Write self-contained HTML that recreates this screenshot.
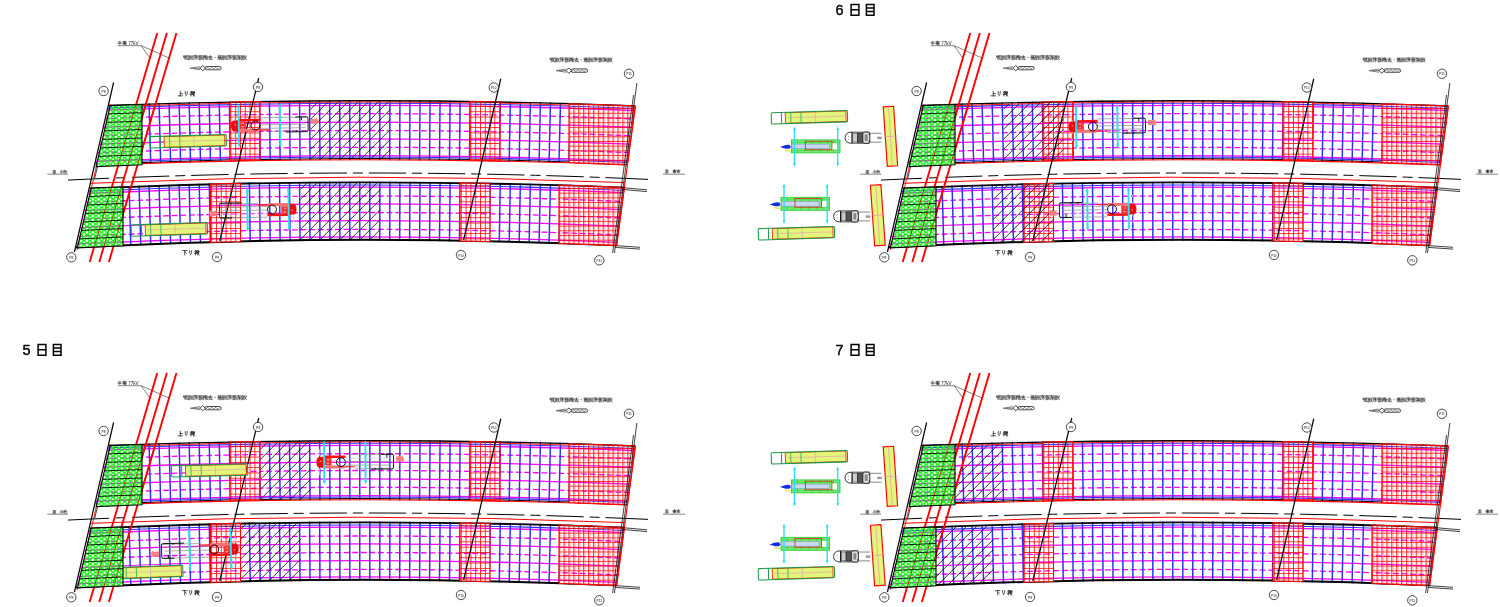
<!DOCTYPE html><html><head><meta charset="utf-8"><style>html,body{margin:0;padding:0;background:#fff;overflow:hidden;}svg{display:block;will-change:transform;}</style></head><body><svg width="1500" height="607" viewBox="0 0 1500 607"><defs>
<pattern id="rgp" width="4.8" height="5.3" patternUnits="userSpaceOnUse">
 <rect x="0" y="0" width="0.8" height="5.3" fill="#ff0000"/>
 <rect x="0" y="0" width="4.8" height="0.75" fill="#ff0000"/>
</pattern>
<pattern id="rgp2" width="4.9" height="4.7" patternUnits="userSpaceOnUse">
 <rect x="0" y="0" width="0.75" height="4.7" fill="#ff0000"/>
 <rect x="1.75" y="0" width="0.4" height="4.7" fill="#ff1010"/>
 <rect x="0" y="0" width="4.9" height="0.7" fill="#ff0000"/>
</pattern>
<pattern id="hp" width="10" height="10" patternUnits="userSpaceOnUse" x="-0.2">
 <path d="M-1 11 L11 -1 M-1 1 L1 -1 M9 11 L11 9" stroke="#000" stroke-width="0.8"/>
</pattern>
<pattern id="gmp" width="5.8" height="4.15" patternUnits="userSpaceOnUse">
 <path fill-rule="evenodd" fill="#00f800" d="M0 0H5.8V4.15H0ZM-1.4 0 a1.4 1.4 0 1 0 2.8 0 a1.4 1.4 0 1 0 -2.8 0ZM4.4 0 a1.4 1.4 0 1 0 2.8 0 a1.4 1.4 0 1 0 -2.8 0ZM-1.4 4.15 a1.4 1.4 0 1 0 2.8 0 a1.4 1.4 0 1 0 -2.8 0ZM4.4 4.15 a1.4 1.4 0 1 0 2.8 0 a1.4 1.4 0 1 0 -2.8 0ZM1.75 2.075 a1.15 1.15 0 1 0 2.3 0 a1.15 1.15 0 1 0 -2.3 0Z"/>
</pattern>
<g id="base"><clipPath id="cb0"><path d="M108.74 104.84 Q372 95.25 635.25 105.32 L627.34 165.26 Q361.02 154.35 94.7 165.64 Z"/></clipPath><clipPath id="cb1"><path d="M89.63 187.55 Q357.06 175.62 624.5 186.82 L616.65 246.26 Q346.15 234.29 75.65 248.1 Z"/></clipPath><g clip-path="url(#cb0)"><path d="M60 111.98 Q360 98.86 660 111.51" stroke="#ff00ff" stroke-width="1.3" fill="none"/><path d="M60 120.47 Q360 107.17 660 119.99" stroke="#ff00ff" stroke-width="1.3" fill="none" stroke-dasharray="5.8 2.8"/><path d="M60 128.97 Q360 115.48 660 128.48" stroke="#ff00ff" stroke-width="1.3" fill="none"/><path d="M60 137.47 Q360 123.79 660 136.97" stroke="#ff00ff" stroke-width="1.3" fill="none" stroke-dasharray="5.8 2.8"/><path d="M60 145.96 Q360 132.09 660 145.46" stroke="#ff00ff" stroke-width="1.3" fill="none"/><path d="M60 154.46 Q360 140.4 660 153.95" stroke="#ff00ff" stroke-width="1.3" fill="none" stroke-dasharray="5.8 2.8"/><path d="M60 162.85 Q360 148.61 660 162.34" stroke="#ff00ff" stroke-width="1.3" fill="none"/><path d="M149.03 102.06 L150.75 164.94" stroke="#2c2cff" stroke-width="1.45"/><path d="M159.05 101.76 L160.7 164.61" stroke="#2c2cff" stroke-width="1.45"/><path d="M169.08 101.48 L170.65 164.29" stroke="#2c2cff" stroke-width="1.45"/><path d="M179.11 101.21 L180.6 164" stroke="#2c2cff" stroke-width="1.45"/><path d="M189.14 100.95 L190.55 163.71" stroke="#2c2cff" stroke-width="1.45"/><path d="M199.18 100.71 L200.5 163.45" stroke="#2c2cff" stroke-width="1.45"/><path d="M209.21 100.48 L210.45 163.19" stroke="#2c2cff" stroke-width="1.45"/><path d="M219.24 100.27 L220.41 162.96" stroke="#2c2cff" stroke-width="1.45"/><path d="M229.28 100.07 L230.36 162.74" stroke="#2c2cff" stroke-width="1.45"/><path d="M239.31 99.88 L240.32 162.53" stroke="#2c2cff" stroke-width="1.45"/><path d="M249.35 99.71 L250.27 162.35" stroke="#2c2cff" stroke-width="1.45"/><path d="M259.39 99.55 L260.23 162.17" stroke="#2c2cff" stroke-width="1.45"/><path d="M269.42 99.41 L270.19 162.02" stroke="#2c2cff" stroke-width="1.45"/><path d="M279.46 99.28 L280.14 161.87" stroke="#2c2cff" stroke-width="1.45"/><path d="M289.5 99.17 L290.1 161.75" stroke="#2c2cff" stroke-width="1.45"/><path d="M299.54 99.07 L300.06 161.64" stroke="#2c2cff" stroke-width="1.45"/><path d="M309.58 98.98 L310.02 161.54" stroke="#2c2cff" stroke-width="1.45"/><path d="M319.62 98.91 L319.98 161.46" stroke="#2c2cff" stroke-width="1.45"/><path d="M329.66 98.85 L329.94 161.4" stroke="#2c2cff" stroke-width="1.45"/><path d="M339.7 98.81 L339.9 161.35" stroke="#2c2cff" stroke-width="1.45"/><path d="M349.74 98.78 L349.86 161.32" stroke="#2c2cff" stroke-width="1.45"/><path d="M359.78 98.76 L359.82 161.3" stroke="#2c2cff" stroke-width="1.45"/><path d="M369.82 98.76 L369.78 161.3" stroke="#2c2cff" stroke-width="1.45"/><path d="M379.86 98.77 L379.74 161.32" stroke="#2c2cff" stroke-width="1.45"/><path d="M389.9 98.8 L389.7 161.35" stroke="#2c2cff" stroke-width="1.45"/><path d="M399.94 98.84 L399.66 161.39" stroke="#2c2cff" stroke-width="1.45"/><path d="M409.98 98.9 L409.62 161.45" stroke="#2c2cff" stroke-width="1.45"/><path d="M420.02 98.97 L419.58 161.53" stroke="#2c2cff" stroke-width="1.45"/><path d="M430.06 99.05 L429.54 161.62" stroke="#2c2cff" stroke-width="1.45"/><path d="M440.09 99.15 L439.5 161.73" stroke="#2c2cff" stroke-width="1.45"/><path d="M450.13 99.26 L449.46 161.86" stroke="#2c2cff" stroke-width="1.45"/><path d="M460.17 99.39 L459.42 161.99" stroke="#2c2cff" stroke-width="1.45"/><path d="M470.21 99.53 L469.38 162.15" stroke="#2c2cff" stroke-width="1.45"/><path d="M480.24 99.69 L479.33 162.32" stroke="#2c2cff" stroke-width="1.45"/><path d="M490.28 99.86 L489.29 162.51" stroke="#2c2cff" stroke-width="1.45"/><path d="M500.32 100.04 L499.25 162.71" stroke="#2c2cff" stroke-width="1.45"/><path d="M510.35 100.24 L509.2 162.93" stroke="#2c2cff" stroke-width="1.45"/><path d="M520.39 100.45 L519.16 163.16" stroke="#2c2cff" stroke-width="1.45"/><path d="M530.42 100.68 L529.11 163.41" stroke="#2c2cff" stroke-width="1.45"/><path d="M540.45 100.92 L539.06 163.67" stroke="#2c2cff" stroke-width="1.45"/><path d="M550.48 101.17 L549.01 163.95" stroke="#2c2cff" stroke-width="1.45"/><path d="M560.51 101.44 L558.96 164.25" stroke="#2c2cff" stroke-width="1.45"/><path d="M570.54 101.72 L568.91 164.56" stroke="#2c2cff" stroke-width="1.45"/><path d="M580.57 102.02 L578.86 164.89" stroke="#2c2cff" stroke-width="1.45"/><path d="M590.6 102.33 L588.8 165.23" stroke="#2c2cff" stroke-width="1.45"/><path d="M600.62 102.66 L598.75 165.59" stroke="#2c2cff" stroke-width="1.45"/><path d="M610.65 103 L608.69 165.96" stroke="#2c2cff" stroke-width="1.45"/><path d="M620.67 103.35 L618.63 166.35" stroke="#2c2cff" stroke-width="1.45"/><path d="M630.69 103.72 L628.57 166.76" stroke="#2c2cff" stroke-width="1.45"/><path d="M640.71 104.1 L638.51 167.18" stroke="#2c2cff" stroke-width="1.45"/><path d="M60 109.96 Q360 96.88 660 109.48" stroke="#3333ff" stroke-width="1.1" fill="none"/><path d="M60 164.27 Q360 149.99 660 163.75" stroke="#3333ff" stroke-width="1.1" fill="none"/></g><g clip-path="url(#cb1)"><path d="M60 194.71 Q360 179.76 660 194.17" stroke="#ff00ff" stroke-width="1.3" fill="none"/><path d="M60 203.71 Q360 188.57 660 203.17" stroke="#ff00ff" stroke-width="1.3" fill="none" stroke-dasharray="5.8 2.8"/><path d="M60 211.7 Q360 196.38 660 211.15" stroke="#ff00ff" stroke-width="1.3" fill="none"/><path d="M60 220.4 Q360 204.88 660 219.84" stroke="#ff00ff" stroke-width="1.3" fill="none" stroke-dasharray="5.8 2.8"/><path d="M60 228.69 Q360 212.99 660 228.13" stroke="#ff00ff" stroke-width="1.3" fill="none"/><path d="M60 237.49 Q360 221.6 660 236.92" stroke="#ff00ff" stroke-width="1.3" fill="none" stroke-dasharray="5.8 2.8"/><path d="M60 244.98 Q360 228.92 660 244.4" stroke="#ff00ff" stroke-width="1.3" fill="none"/><path d="M129 184.5 L130.87 246.99" stroke="#2c2cff" stroke-width="1.45"/><path d="M139.02 184.12 L140.81 246.58" stroke="#2c2cff" stroke-width="1.45"/><path d="M149.04 183.77 L150.76 246.2" stroke="#2c2cff" stroke-width="1.45"/><path d="M159.07 183.42 L160.7 245.82" stroke="#2c2cff" stroke-width="1.45"/><path d="M169.1 183.1 L170.65 245.47" stroke="#2c2cff" stroke-width="1.45"/><path d="M179.13 182.79 L180.6 245.14" stroke="#2c2cff" stroke-width="1.45"/><path d="M189.16 182.5 L190.55 244.82" stroke="#2c2cff" stroke-width="1.45"/><path d="M199.19 182.22 L200.5 244.52" stroke="#2c2cff" stroke-width="1.45"/><path d="M209.22 181.96 L210.45 244.23" stroke="#2c2cff" stroke-width="1.45"/><path d="M219.25 181.72 L220.41 243.97" stroke="#2c2cff" stroke-width="1.45"/><path d="M229.29 181.49 L230.36 243.72" stroke="#2c2cff" stroke-width="1.45"/><path d="M239.32 181.28 L240.31 243.49" stroke="#2c2cff" stroke-width="1.45"/><path d="M249.36 181.08 L250.27 243.28" stroke="#2c2cff" stroke-width="1.45"/><path d="M259.39 180.9 L260.23 243.08" stroke="#2c2cff" stroke-width="1.45"/><path d="M269.43 180.74 L270.18 242.91" stroke="#2c2cff" stroke-width="1.45"/><path d="M279.47 180.59 L280.14 242.75" stroke="#2c2cff" stroke-width="1.45"/><path d="M289.5 180.46 L290.1 242.6" stroke="#2c2cff" stroke-width="1.45"/><path d="M299.54 180.35 L300.06 242.48" stroke="#2c2cff" stroke-width="1.45"/><path d="M309.58 180.25 L310.02 242.37" stroke="#2c2cff" stroke-width="1.45"/><path d="M319.62 180.17 L319.98 242.28" stroke="#2c2cff" stroke-width="1.45"/><path d="M329.66 180.1 L329.94 242.21" stroke="#2c2cff" stroke-width="1.45"/><path d="M339.7 180.05 L339.9 242.16" stroke="#2c2cff" stroke-width="1.45"/><path d="M349.74 180.02 L349.86 242.12" stroke="#2c2cff" stroke-width="1.45"/><path d="M359.78 180 L359.82 242.1" stroke="#2c2cff" stroke-width="1.45"/><path d="M369.82 180 L369.78 242.1" stroke="#2c2cff" stroke-width="1.45"/><path d="M379.86 180.02 L379.74 242.12" stroke="#2c2cff" stroke-width="1.45"/><path d="M389.9 180.05 L389.7 242.15" stroke="#2c2cff" stroke-width="1.45"/><path d="M399.94 180.1 L399.67 242.2" stroke="#2c2cff" stroke-width="1.45"/><path d="M409.98 180.16 L409.63 242.27" stroke="#2c2cff" stroke-width="1.45"/><path d="M420.01 180.24 L419.59 242.36" stroke="#2c2cff" stroke-width="1.45"/><path d="M430.05 180.33 L429.55 242.46" stroke="#2c2cff" stroke-width="1.45"/><path d="M440.09 180.45 L439.5 242.59" stroke="#2c2cff" stroke-width="1.45"/><path d="M450.13 180.58 L449.46 242.73" stroke="#2c2cff" stroke-width="1.45"/><path d="M460.17 180.72 L459.42 242.88" stroke="#2c2cff" stroke-width="1.45"/><path d="M470.2 180.88 L469.38 243.06" stroke="#2c2cff" stroke-width="1.45"/><path d="M480.24 181.06 L479.34 243.25" stroke="#2c2cff" stroke-width="1.45"/><path d="M490.27 181.25 L489.29 243.46" stroke="#2c2cff" stroke-width="1.45"/><path d="M500.31 181.46 L499.25 243.69" stroke="#2c2cff" stroke-width="1.45"/><path d="M510.34 181.69 L509.2 243.93" stroke="#2c2cff" stroke-width="1.45"/><path d="M520.38 181.93 L519.15 244.2" stroke="#2c2cff" stroke-width="1.45"/><path d="M530.41 182.18 L529.11 244.48" stroke="#2c2cff" stroke-width="1.45"/><path d="M540.44 182.46 L539.06 244.77" stroke="#2c2cff" stroke-width="1.45"/><path d="M550.47 182.75 L549.01 245.09" stroke="#2c2cff" stroke-width="1.45"/><path d="M560.5 183.06 L558.96 245.42" stroke="#2c2cff" stroke-width="1.45"/><path d="M570.53 183.38 L568.9 245.77" stroke="#2c2cff" stroke-width="1.45"/><path d="M580.55 183.72 L578.85 246.14" stroke="#2c2cff" stroke-width="1.45"/><path d="M590.58 184.07 L588.8 246.53" stroke="#2c2cff" stroke-width="1.45"/><path d="M600.6 184.44 L598.74 246.93" stroke="#2c2cff" stroke-width="1.45"/><path d="M610.62 184.83 L608.68 247.35" stroke="#2c2cff" stroke-width="1.45"/><path d="M620.64 185.23 L618.62 247.79" stroke="#2c2cff" stroke-width="1.45"/><path d="M630.66 185.65 L628.56 248.25" stroke="#2c2cff" stroke-width="1.45"/><path d="M640.68 186.09 L638.49 248.72" stroke="#2c2cff" stroke-width="1.45"/><path d="M60 192.59 Q360 177.69 660 192.05" stroke="#3333ff" stroke-width="1.1" fill="none"/></g></g><g id="over"><path d="M108.93 105.43 Q372.01 95.85 635.1 105.92" stroke="#000" stroke-width="1.3" fill="none"/><path d="M95.7 164.08 Q360.63 152.92 625.57 163.68" stroke="#000" stroke-width="1.0" fill="none"/><path d="M109.23 106.53 Q372.16 96.95 635.1 107.03" stroke="#ff0000" stroke-width="0.9" fill="none"/><path d="M96 165.38 Q361 154.21 626 165.01" stroke="#ff0000" stroke-width="1.1" fill="none"/><path d="M89.99 188.45 Q357.13 176.53 624.27 187.72" stroke="#000" stroke-width="1.8" fill="none"/><path d="M75.83 247.23 Q345.66 233.48 615.48 245.35" stroke="#000" stroke-width="2.0" fill="none"/><path d="M68 180.07 Q88.5 179.09 109 178.25" stroke="#000" stroke-width="1.0" fill="none"/><path d="M116 177.97 Q120.5 177.79 125 177.62" stroke="#000" stroke-width="1.0" fill="none"/><path d="M132 177.35 Q369 168.52 606 177.62" stroke="#000" stroke-width="1.0" fill="none" stroke-dasharray="37.4 5.9 10 5.9"/><path d="M606 177.62 Q627 178.42 648 179.37" stroke="#000" stroke-width="1.0" fill="none"/><path d="M90 183.3 Q357.5 171.46 625 182.61" stroke="#ff0000" stroke-width="1.0" fill="none"/></g><g id="piers"><clipPath id="rgc1"><path d="M230 102.06 Q245 101.77 260 101.55 L260 160.17 Q245 160.42 230 160.73 Z"/></clipPath><path d="M230 102.06 Q245 101.77 260 101.55 L260 160.17 Q245 160.42 230 160.73 Z" fill="#fff"/><g clip-path="url(#rgc1)"><path d="M225 106.71 Q442.5 102.34 660 111.51" stroke="#ff00ff" stroke-width="1.3" fill="none"/><path d="M225 115.13 Q442.5 110.7 660 119.99" stroke="#ff00ff" stroke-width="1.3" fill="none" stroke-dasharray="5.8 2.8"/><path d="M225 123.55 Q442.5 119.05 660 128.48" stroke="#ff00ff" stroke-width="1.3" fill="none"/><path d="M225 131.97 Q442.5 127.41 660 136.97" stroke="#ff00ff" stroke-width="1.3" fill="none" stroke-dasharray="5.8 2.8"/><path d="M225 140.39 Q442.5 135.77 660 145.46" stroke="#ff00ff" stroke-width="1.3" fill="none"/><path d="M225 148.81 Q442.5 144.13 660 153.95" stroke="#ff00ff" stroke-width="1.3" fill="none" stroke-dasharray="5.8 2.8"/><path d="M225 157.13 Q442.5 152.38 660 162.34" stroke="#ff00ff" stroke-width="1.3" fill="none"/><path d="M225 104.71 Q442.5 100.35 660 109.48" stroke="#3838ff" stroke-width="1.1" fill="none"/><path d="M225 158.54 Q442.5 153.78 660 163.75" stroke="#3838ff" stroke-width="1.1" fill="none"/><path d="M225 102.46 Q442.5 98.12 660 107.22" stroke="#000" stroke-width="1.2" fill="none"/><rect x="229" y="90.76" width="100" height="78.54" fill="url(#rgp)"/></g><path d="M230 102.06 Q245 101.77 260 101.55 L260 160.17 Q245 160.42 230 160.73 Z" fill="none" stroke="#ff0000" stroke-width="1.1"/><clipPath id="rgc2"><path d="M470 101.54 Q485 101.76 500 102.04 L500 160.71 Q485 160.4 470 160.15 Z"/></clipPath><path d="M470 101.54 Q485 101.76 500 102.04 L500 160.71 Q485 160.4 470 160.15 Z" fill="#fff"/><g clip-path="url(#rgc2)"><path d="M465 106.01 Q562.5 107.4 660 111.51" stroke="#ff00ff" stroke-width="1.3" fill="none"/><path d="M465 114.42 Q562.5 115.83 660 119.99" stroke="#ff00ff" stroke-width="1.3" fill="none" stroke-dasharray="5.8 2.8"/><path d="M465 122.83 Q562.5 124.26 660 128.48" stroke="#ff00ff" stroke-width="1.3" fill="none"/><path d="M465 131.24 Q562.5 132.69 660 136.97" stroke="#ff00ff" stroke-width="1.3" fill="none" stroke-dasharray="5.8 2.8"/><path d="M465 139.65 Q562.5 141.12 660 145.46" stroke="#ff00ff" stroke-width="1.3" fill="none"/><path d="M465 148.06 Q562.5 149.55 660 153.95" stroke="#ff00ff" stroke-width="1.3" fill="none" stroke-dasharray="5.8 2.8"/><path d="M465 156.37 Q562.5 157.88 660 162.34" stroke="#ff00ff" stroke-width="1.3" fill="none"/><path d="M465 104.01 Q562.5 105.39 660 109.48" stroke="#3838ff" stroke-width="1.1" fill="none"/><path d="M465 157.77 Q562.5 159.28 660 163.75" stroke="#3838ff" stroke-width="1.1" fill="none"/><path d="M465 101.76 Q562.5 103.14 660 107.22" stroke="#000" stroke-width="1.2" fill="none"/><rect x="469" y="90.76" width="100" height="78.54" fill="url(#rgp)"/></g><path d="M470 101.54 Q485 101.76 500 102.04 L500 160.71 Q485 160.4 470 160.15 Z" fill="none" stroke="#ff0000" stroke-width="1.1"/><clipPath id="rgc3"><path d="M569 103.7 Q602.09 104.66 635.17 105.92 L627.42 164.66 Q598.21 163.47 569 162.54 Z"/></clipPath><path d="M569 103.7 Q602.09 104.66 635.17 105.92 L627.42 164.66 Q598.21 163.47 569 162.54 Z" fill="#fff"/><g clip-path="url(#rgc3)"><path d="M564 108.12 Q612 109.48 660 111.51" stroke="#ff00ff" stroke-width="1.3" fill="none"/><path d="M564 116.56 Q612 117.94 660 119.99" stroke="#ff00ff" stroke-width="1.3" fill="none" stroke-dasharray="5.8 2.8"/><path d="M564 125 Q612 126.4 660 128.48" stroke="#ff00ff" stroke-width="1.3" fill="none"/><path d="M564 133.44 Q612 134.86 660 136.97" stroke="#ff00ff" stroke-width="1.3" fill="none" stroke-dasharray="5.8 2.8"/><path d="M564 141.88 Q612 143.32 660 145.46" stroke="#ff00ff" stroke-width="1.3" fill="none"/><path d="M564 150.32 Q612 151.78 660 153.95" stroke="#ff00ff" stroke-width="1.3" fill="none" stroke-dasharray="5.8 2.8"/><path d="M564 158.66 Q612 160.14 660 162.34" stroke="#ff00ff" stroke-width="1.3" fill="none"/><path d="M564 106.11 Q612 107.47 660 109.48" stroke="#3838ff" stroke-width="1.1" fill="none"/><path d="M564 160.07 Q612 161.55 660 163.75" stroke="#3838ff" stroke-width="1.1" fill="none"/><path d="M564 103.86 Q612 105.21 660 107.22" stroke="#000" stroke-width="1.2" fill="none"/><rect x="568" y="90.76" width="100" height="78.54" fill="url(#rgp2)"/></g><path d="M569 103.7 Q602.09 104.66 635.17 105.92 L627.42 164.66 Q598.21 163.47 569 162.54 Z" fill="none" stroke="#ff0000" stroke-width="1.1"/><clipPath id="rgc4"><path d="M210.5 183.94 Q225.5 183.57 240.5 183.26 L240.5 241.48 Q225.5 241.81 210.5 242.21 Z"/></clipPath><path d="M210.5 183.94 Q225.5 183.57 240.5 183.26 L240.5 241.48 Q225.5 241.81 210.5 242.21 Z" fill="#fff"/><g clip-path="url(#rgc4)"><path d="M205.5 189.19 Q432.75 183.26 660 194.17" stroke="#ff00ff" stroke-width="1.3" fill="none"/><path d="M205.5 198.12 Q432.75 192.11 660 203.17" stroke="#ff00ff" stroke-width="1.3" fill="none" stroke-dasharray="5.8 2.8"/><path d="M205.5 206.04 Q432.75 199.96 660 211.15" stroke="#ff00ff" stroke-width="1.3" fill="none"/><path d="M205.5 214.67 Q432.75 208.51 660 219.84" stroke="#ff00ff" stroke-width="1.3" fill="none" stroke-dasharray="5.8 2.8"/><path d="M205.5 222.89 Q432.75 216.66 660 228.13" stroke="#ff00ff" stroke-width="1.3" fill="none"/><path d="M205.5 231.62 Q432.75 225.31 660 236.92" stroke="#ff00ff" stroke-width="1.3" fill="none" stroke-dasharray="5.8 2.8"/><path d="M205.5 239.04 Q432.75 232.67 660 244.4" stroke="#ff00ff" stroke-width="1.3" fill="none"/><path d="M205.5 187.08 Q432.75 181.17 660 192.05" stroke="#3838ff" stroke-width="1.1" fill="none"/><path d="M205.5 184.37 Q432.75 178.48 660 189.32" stroke="#000" stroke-width="1.2" fill="none"/><rect x="209.5" y="172" width="100" height="78.1" fill="url(#rgp)"/></g><path d="M210.5 183.94 Q225.5 183.57 240.5 183.26 L240.5 241.48 Q225.5 241.81 210.5 242.21 Z" fill="none" stroke="#ff0000" stroke-width="1.1"/><clipPath id="rgc5"><path d="M460 182.72 Q475 182.95 490 183.25 L490 241.46 Q475 241.14 460 240.89 Z"/></clipPath><path d="M460 182.72 Q475 182.95 490 183.25 L490 241.46 Q475 241.14 460 240.89 Z" fill="#fff"/><g clip-path="url(#rgc5)"><path d="M455 187.75 Q557.5 189.25 660 194.17" stroke="#ff00ff" stroke-width="1.3" fill="none"/><path d="M455 196.66 Q557.5 198.18 660 203.17" stroke="#ff00ff" stroke-width="1.3" fill="none" stroke-dasharray="5.8 2.8"/><path d="M455 204.57 Q557.5 206.1 660 211.15" stroke="#ff00ff" stroke-width="1.3" fill="none"/><path d="M455 213.18 Q557.5 214.73 660 219.84" stroke="#ff00ff" stroke-width="1.3" fill="none" stroke-dasharray="5.8 2.8"/><path d="M455 221.39 Q557.5 222.96 660 228.13" stroke="#ff00ff" stroke-width="1.3" fill="none"/><path d="M455 230.09 Q557.5 231.69 660 236.92" stroke="#ff00ff" stroke-width="1.3" fill="none" stroke-dasharray="5.8 2.8"/><path d="M455 237.5 Q557.5 239.11 660 244.4" stroke="#ff00ff" stroke-width="1.3" fill="none"/><path d="M455 185.65 Q557.5 187.14 660 192.05" stroke="#3838ff" stroke-width="1.1" fill="none"/><path d="M455 182.95 Q557.5 184.43 660 189.32" stroke="#000" stroke-width="1.2" fill="none"/><rect x="459" y="172" width="100" height="78.1" fill="url(#rgp)"/></g><path d="M460 182.72 Q475 182.95 490 183.25 L490 241.46 Q475 241.14 460 240.89 Z" fill="none" stroke="#ff0000" stroke-width="1.1"/><clipPath id="rgc6"><path d="M559 185.03 Q591.71 186.05 624.42 187.43 L616.73 245.66 Q587.86 244.38 559 243.4 Z"/></clipPath><path d="M559 185.03 Q591.71 186.05 624.42 187.43 L616.73 245.66 Q587.86 244.38 559 243.4 Z" fill="#fff"/><g clip-path="url(#rgc6)"><path d="M554 190 Q607 191.63 660 194.17" stroke="#ff00ff" stroke-width="1.3" fill="none"/><path d="M554 198.94 Q607 200.59 660 203.17" stroke="#ff00ff" stroke-width="1.3" fill="none" stroke-dasharray="5.8 2.8"/><path d="M554 206.87 Q607 208.54 660 211.15" stroke="#ff00ff" stroke-width="1.3" fill="none"/><path d="M554 215.51 Q607 217.2 660 219.84" stroke="#ff00ff" stroke-width="1.3" fill="none" stroke-dasharray="5.8 2.8"/><path d="M554 223.74 Q607 225.46 660 228.13" stroke="#ff00ff" stroke-width="1.3" fill="none"/><path d="M554 232.48 Q607 234.21 660 236.92" stroke="#ff00ff" stroke-width="1.3" fill="none" stroke-dasharray="5.8 2.8"/><path d="M554 239.91 Q607 241.66 660 244.4" stroke="#ff00ff" stroke-width="1.3" fill="none"/><path d="M554 187.89 Q607 189.51 660 192.05" stroke="#3838ff" stroke-width="1.1" fill="none"/><path d="M554 185.18 Q607 186.79 660 189.32" stroke="#000" stroke-width="1.2" fill="none"/><rect x="558" y="172" width="100" height="78.1" fill="url(#rgp2)"/></g><path d="M559 185.03 Q591.71 186.05 624.42 187.43 L616.73 245.66 Q587.86 244.38 559 243.4 Z" fill="none" stroke="#ff0000" stroke-width="1.1"/><path d="M635.46 106.5 L616.35 246" stroke="#ff0000" stroke-width="1.1"/><path d="M636.9 83 L614.46 253" stroke="#111" stroke-width="0.8"/><path d="M633.52 95 L612.66 253" stroke="#111" stroke-width="0.8"/><path d="M615 245.6 L640 247.3 M615 247.4 L640 249.1" stroke="#111" stroke-width="0.8"/><path d="M622 187.6 L647 189.8 M622 189.4 L647 191.6" stroke="#111" stroke-width="0.8"/><path d="M113.6 82.5 L74.45 252" stroke="#000" stroke-width="1.2"/><path d="M96.51 166 L77.11 250" stroke="#ff0000" stroke-width="0.9"/><path d="M110.83 104 L97.44 162" stroke="#ff0000" stroke-width="0.9"/><path d="M97.9 165.3 L94.6 178.6" stroke="#111" stroke-width="0.8"/><path d="M258.75 78 L219.79 241" stroke="#000" stroke-width="1.2"/><path d="M500.75 78.75 L463.66 240" stroke="#000" stroke-width="1.2"/><circle cx="103.6" cy="91" r="4.7" fill="#fff" stroke="#111" stroke-width="0.75"/><text x="103.6" y="92.5" font-size="4.1" text-anchor="middle" fill="#111" font-family="Liberation Sans" textLength="4.2" lengthAdjust="spacingAndGlyphs">P8</text><circle cx="258" cy="87" r="4.7" fill="#fff" stroke="#111" stroke-width="0.75"/><text x="258" y="88.5" font-size="4.1" text-anchor="middle" fill="#111" font-family="Liberation Sans" textLength="4.2" lengthAdjust="spacingAndGlyphs">P9</text><circle cx="493.8" cy="87.5" r="4.7" fill="#fff" stroke="#111" stroke-width="0.75"/><text x="493.8" y="89" font-size="4.1" text-anchor="middle" fill="#111" font-family="Liberation Sans" textLength="5.6" lengthAdjust="spacingAndGlyphs">P10</text><circle cx="629" cy="73.8" r="4.7" fill="#fff" stroke="#111" stroke-width="0.75"/><text x="629" y="75.3" font-size="4.1" text-anchor="middle" fill="#111" font-family="Liberation Sans" textLength="5.6" lengthAdjust="spacingAndGlyphs">P11</text><circle cx="71.3" cy="257.3" r="4.7" fill="#fff" stroke="#111" stroke-width="0.75"/><text x="71.3" y="258.8" font-size="4.1" text-anchor="middle" fill="#111" font-family="Liberation Sans" textLength="4.2" lengthAdjust="spacingAndGlyphs">P8</text><circle cx="217" cy="257" r="4.7" fill="#fff" stroke="#111" stroke-width="0.75"/><text x="217" y="258.5" font-size="4.1" text-anchor="middle" fill="#111" font-family="Liberation Sans" textLength="4.2" lengthAdjust="spacingAndGlyphs">P9</text><circle cx="461" cy="255" r="4.7" fill="#fff" stroke="#111" stroke-width="0.75"/><text x="461" y="256.5" font-size="4.1" text-anchor="middle" fill="#111" font-family="Liberation Sans" textLength="5.6" lengthAdjust="spacingAndGlyphs">P10</text><circle cx="599.3" cy="260.3" r="4.7" fill="#fff" stroke="#111" stroke-width="0.75"/><text x="599.3" y="261.8" font-size="4.1" text-anchor="middle" fill="#111" font-family="Liberation Sans" textLength="5.6" lengthAdjust="spacingAndGlyphs">P11</text></g><g id="mesh"><path d="M110.27 105.59 Q126.13 105.01 142 104.51 L142 164.81 Q119.09 165.62 96.18 166.58 Z" fill="#fff"/><g clip-path="url(#cb0)"><path d="M60 111.98 Q101 110.19 142 108.87" stroke="#ff00ff" stroke-width="1.3" fill="none"/><path d="M60 120.47 Q101 118.66 142 117.33" stroke="#ff00ff" stroke-width="1.3" fill="none" stroke-dasharray="5.8 2.8"/><path d="M60 128.97 Q101 127.13 142 125.78" stroke="#ff00ff" stroke-width="1.3" fill="none"/><path d="M60 137.47 Q101 135.6 142 134.23" stroke="#ff00ff" stroke-width="1.3" fill="none" stroke-dasharray="5.8 2.8"/><path d="M60 145.96 Q101 144.07 142 142.68" stroke="#ff00ff" stroke-width="1.3" fill="none"/><path d="M60 154.46 Q101 152.54 142 151.13" stroke="#ff00ff" stroke-width="1.3" fill="none" stroke-dasharray="5.8 2.8"/><path d="M60 162.85 Q101 160.91 142 159.48" stroke="#ff00ff" stroke-width="1.3" fill="none"/><path d="M60 109.96 Q101 108.17 142 106.86" stroke="#3838ff" stroke-width="1.1" fill="none"/><path d="M157.25 33 L89.7 262" stroke="#ff0000" stroke-width="1.3"/><path d="M166.85 33 L99.3 262" stroke="#ff0000" stroke-width="1.3"/><path d="M176.45 33 L108.89 262" stroke="#ff0000" stroke-width="1.3"/></g><path d="M110.27 105.59 Q126.13 105.01 142 104.51 L142 164.81 Q119.09 165.62 96.18 166.58 Z" fill="url(#gmp)" stroke="#000" stroke-width="1.1"/><path d="M108.35 113.89 Q125.17 113.26 142 112.72" stroke="#000" stroke-width="0.9" fill="none"/><path d="M106.39 122.39 Q124.19 121.72 142 121.13" stroke="#000" stroke-width="0.9" fill="none"/><path d="M104.42 130.9 Q123.21 130.17 142 129.55" stroke="#000" stroke-width="0.9" fill="none"/><path d="M102.45 139.41 Q122.23 138.63 142 137.96" stroke="#000" stroke-width="0.9" fill="none"/><path d="M100.49 147.92 Q121.24 147.08 142 146.38" stroke="#000" stroke-width="0.9" fill="none"/><path d="M98.52 156.43 Q120.26 155.54 142 154.79" stroke="#000" stroke-width="0.9" fill="none"/><path d="M91.16 188.29 Q107.08 187.59 123 186.96 L123 245.68 Q100.21 246.65 77.41 247.81 Z" fill="#fff"/><g clip-path="url(#cb1)"><path d="M60 194.71 Q91.5 193.14 123 191.9" stroke="#ff00ff" stroke-width="1.3" fill="none"/><path d="M60 203.71 Q91.5 202.12 123 200.86" stroke="#ff00ff" stroke-width="1.3" fill="none" stroke-dasharray="5.8 2.8"/><path d="M60 211.7 Q91.5 210.09 123 208.82" stroke="#ff00ff" stroke-width="1.3" fill="none"/><path d="M60 220.4 Q91.5 218.77 123 217.48" stroke="#ff00ff" stroke-width="1.3" fill="none" stroke-dasharray="5.8 2.8"/><path d="M60 228.69 Q91.5 227.05 123 225.74" stroke="#ff00ff" stroke-width="1.3" fill="none"/><path d="M60 237.49 Q91.5 235.82 123 234.5" stroke="#ff00ff" stroke-width="1.3" fill="none" stroke-dasharray="5.8 2.8"/><path d="M60 244.98 Q91.5 243.29 123 241.95" stroke="#ff00ff" stroke-width="1.3" fill="none"/><path d="M60 192.59 Q91.5 191.02 123 189.78" stroke="#3838ff" stroke-width="1.1" fill="none"/><path d="M157.25 33 L89.7 262" stroke="#ff0000" stroke-width="1.3"/><path d="M166.85 33 L99.3 262" stroke="#ff0000" stroke-width="1.3"/><path d="M176.45 33 L108.89 262" stroke="#ff0000" stroke-width="1.3"/></g><path d="M91.16 188.29 Q107.08 187.59 123 186.96 L123 245.68 Q100.21 246.65 77.41 247.81 Z" fill="url(#gmp)" stroke="#000" stroke-width="1.1"/><path d="M89.25 196.55 Q106.13 195.79 123 195.12" stroke="#000" stroke-width="0.9" fill="none"/><path d="M87.3 205.02 Q105.15 204.2 123 203.48" stroke="#000" stroke-width="0.9" fill="none"/><path d="M85.34 213.49 Q104.17 212.6 123 211.84" stroke="#000" stroke-width="0.9" fill="none"/><path d="M83.38 221.96 Q103.19 221.01 123 220.2" stroke="#000" stroke-width="0.9" fill="none"/><path d="M81.43 230.44 Q102.21 229.42 123 228.56" stroke="#000" stroke-width="0.9" fill="none"/><path d="M79.47 238.92 Q101.23 237.84 123 236.92" stroke="#000" stroke-width="0.9" fill="none"/></g><g id="plines"><g fill="none" stroke="#222" stroke-width="0.55"><path d="M117.7 45.7 L141.2 45.7 L149.8 58 M141.2 45.7 L169 58"/><path d="M47.3 174.2 L68 174.2 M663 174.2 L685 174.2"/></g><g fill="none" stroke="#222" stroke-width="1.19" stroke-linecap="square"><path transform="translate(117.7 40.8) scale(0.42)" d="M2 3H8V6.5H2ZM5 1V9.5"/><path transform="translate(122.5 40.8) scale(0.42)" d="M1.5 1.5H8.5M5 1V4M1.5 3V4.5M8.5 3V4.5M2.5 3.5H4M6 3.5H7.5M2 5.5H8V8H2ZM2 6.75H8M5 5.5V9.5H9"/></g><text x="128.2" y="44.8" font-size="4.6" fill="#222" font-family="Liberation Sans">77kV</text><g fill="none" stroke="#222" stroke-width="1.12" stroke-linecap="square"><path transform="translate(183.5 55) scale(0.49)" d="M1 1.5H4.5V5H1ZM1 3.2H4.5M2.5 5V9L4.5 7.5M5.5 1.5H9M7 1.5Q7 6 5 9.5M7.5 4V9H9.5"/><path transform="translate(188.36 55) scale(0.49)" d="M1 1.5H3.5M0.5 3H4M1 4.5H3.5M1 6H3.5M1 7.5H3.5V9.5H1ZM6 1.5V4H9V1.5M5 5.5H9L5.5 9.5M6 6L9.5 9.5"/><path transform="translate(193.22 55) scale(0.49)" d="M5 0.5V1.5M1.5 1.5H9.5M1.5 1.5V6Q1.5 8.5 0.5 9.5M3 4H9M6 2.5V9.5M6 4.5L3 8.5M6 4.5L9.5 8"/><path transform="translate(198.08 55) scale(0.49)" d="M2 1V9.5M1 4H3.5M3.5 1V9.5M5.5 1.5H9.5M5.5 1.5V6Q5.5 8.5 4.5 9.5M6 4H9L6 9.5M6.5 5L9.5 9.5"/><path transform="translate(202.94 55) scale(0.49)" d="M1.5 1V9.5L1 9M0.5 3.5H3M0.5 6.5L3 5.5M3.5 2H6M4.7 1V3M3.5 3.5H6V9.5M3.5 6H6M7.5 1L6.5 4H9.5M9 4Q8 8 6.5 9.5M7 5.5L9.5 9.5"/><path transform="translate(207.8 55) scale(0.49)" d="M2 3H8M5 1V5.5M1 5.5H9M4.5 5.5L2 9H8.5M7 7.5L8.5 9.5"/><path transform="translate(212.66 55) scale(0.49)" d="M4.5 5H5.5"/><path transform="translate(217.52 55) scale(0.49)" d="M3 0.5V1.5M1 2H5M1.5 3.5L2 4.5M4.5 3.5L4 4.5M1 5H5M3 5V9.5M1.5 7L1 8.5M4.5 7L5 8.5M6 1.5Q6 6 5.5 9.5M9.5 1L6 2.5M6 5H9.5M8 5V9.5"/><path transform="translate(222.38 55) scale(0.49)" d="M1 1.5H3.5M0.5 3H4M1 4.5H3.5M1 6H3.5M1 7.5H3.5V9.5H1ZM6 1.5V4H9V1.5M5 5.5H9L5.5 9.5M6 6L9.5 9.5"/><path transform="translate(227.24 55) scale(0.49)" d="M5 0.5V1.5M1.5 1.5H9.5M1.5 1.5V6Q1.5 8.5 0.5 9.5M3 4H9M6 2.5V9.5M6 4.5L3 8.5M6 4.5L9.5 8"/><path transform="translate(232.1 55) scale(0.49)" d="M2 1V9.5M1 4H3.5M3.5 1V9.5M5.5 1.5H9.5M5.5 1.5V6Q5.5 8.5 4.5 9.5M6 4H9L6 9.5M6.5 5L9.5 9.5"/><path transform="translate(236.96 55) scale(0.49)" d="M1 2H4Q4 5 2 5.5M2.5 0.5V3M5.5 1.5H9V4.5H5.5ZM1 6.5H9M5 5.5V9.5M4.5 6.5L1 9.5M5.5 6.5L9 9.5"/><path transform="translate(241.82 55) scale(0.49)" d="M1 1.5H3.5M0.5 3H4M1 4.5H3.5M1 6H3.5M1 7.5H3.5V9.5H1ZM6 1.5V4H9V1.5M5 5.5H9L5.5 9.5M6 6L9.5 9.5"/></g><g transform="translate(190.2 65.6) scale(1)"><path d="M0 2.6 L10 1.0 M0 2.6 L10 4.2 M3 2.6 L10 2.6" stroke="#333" stroke-width="0.6" fill="none"/><rect x="14.7" y="0.9" width="16.3" height="3.3" rx="1.6" fill="#fff" stroke="#222" stroke-width="0.8"/><path d="M15.5 3.6 L17.5 1.6 L19.5 3.6 L21.5 1.6 L23.5 3.6 L25.5 1.6 L27.5 3.6 L29.5 1.6" stroke="#222" stroke-width="0.55" fill="none"/><path d="M9.9 2.6 L12.5 -0.1 L15.2 2.6 L12.5 5.2 Z" fill="#fff" stroke="#111" stroke-width="0.8"/></g><g fill="none" stroke="#222" stroke-width="1.17" stroke-linecap="square"><path transform="translate(550 57.4) scale(0.47)" d="M1 1.5H4.5V5H1ZM1 3.2H4.5M2.5 5V9L4.5 7.5M5.5 1.5H9M7 1.5Q7 6 5 9.5M7.5 4V9H9.5"/><path transform="translate(554.81 57.4) scale(0.47)" d="M1 1.5H3.5M0.5 3H4M1 4.5H3.5M1 6H3.5M1 7.5H3.5V9.5H1ZM6 1.5V4H9V1.5M5 5.5H9L5.5 9.5M6 6L9.5 9.5"/><path transform="translate(559.62 57.4) scale(0.47)" d="M5 0.5V1.5M1.5 1.5H9.5M1.5 1.5V6Q1.5 8.5 0.5 9.5M3 4H9M6 2.5V9.5M6 4.5L3 8.5M6 4.5L9.5 8"/><path transform="translate(564.43 57.4) scale(0.47)" d="M2 1V9.5M1 4H3.5M3.5 1V9.5M5.5 1.5H9.5M5.5 1.5V6Q5.5 8.5 4.5 9.5M6 4H9L6 9.5M6.5 5L9.5 9.5"/><path transform="translate(569.24 57.4) scale(0.47)" d="M1.5 1V9.5L1 9M0.5 3.5H3M0.5 6.5L3 5.5M3.5 2H6M4.7 1V3M3.5 3.5H6V9.5M3.5 6H6M7.5 1L6.5 4H9.5M9 4Q8 8 6.5 9.5M7 5.5L9.5 9.5"/><path transform="translate(574.05 57.4) scale(0.47)" d="M2 3H8M5 1V5.5M1 5.5H9M4.5 5.5L2 9H8.5M7 7.5L8.5 9.5"/><path transform="translate(578.86 57.4) scale(0.47)" d="M4.5 5H5.5"/><path transform="translate(583.67 57.4) scale(0.47)" d="M3 0.5V1.5M1 2H5M1.5 3.5L2 4.5M4.5 3.5L4 4.5M1 5H5M3 5V9.5M1.5 7L1 8.5M4.5 7L5 8.5M6 1.5Q6 6 5.5 9.5M9.5 1L6 2.5M6 5H9.5M8 5V9.5"/><path transform="translate(588.48 57.4) scale(0.47)" d="M1 1.5H3.5M0.5 3H4M1 4.5H3.5M1 6H3.5M1 7.5H3.5V9.5H1ZM6 1.5V4H9V1.5M5 5.5H9L5.5 9.5M6 6L9.5 9.5"/><path transform="translate(593.29 57.4) scale(0.47)" d="M5 0.5V1.5M1.5 1.5H9.5M1.5 1.5V6Q1.5 8.5 0.5 9.5M3 4H9M6 2.5V9.5M6 4.5L3 8.5M6 4.5L9.5 8"/><path transform="translate(598.1 57.4) scale(0.47)" d="M2 1V9.5M1 4H3.5M3.5 1V9.5M5.5 1.5H9.5M5.5 1.5V6Q5.5 8.5 4.5 9.5M6 4H9L6 9.5M6.5 5L9.5 9.5"/><path transform="translate(602.91 57.4) scale(0.47)" d="M1 2H4Q4 5 2 5.5M2.5 0.5V3M5.5 1.5H9V4.5H5.5ZM1 6.5H9M5 5.5V9.5M4.5 6.5L1 9.5M5.5 6.5L9 9.5"/><path transform="translate(607.72 57.4) scale(0.47)" d="M1 1.5H3.5M0.5 3H4M1 4.5H3.5M1 6H3.5M1 7.5H3.5V9.5H1ZM6 1.5V4H9V1.5M5 5.5H9L5.5 9.5M6 6L9.5 9.5"/></g><g transform="translate(556 68) scale(1.02)"><path d="M0 2.6 L10 1.0 M0 2.6 L10 4.2 M3 2.6 L10 2.6" stroke="#333" stroke-width="0.6" fill="none"/><rect x="14.7" y="0.9" width="16.3" height="3.3" rx="1.6" fill="#fff" stroke="#222" stroke-width="0.8"/><path d="M15.5 3.6 L17.5 1.6 L19.5 3.6 L21.5 1.6 L23.5 3.6 L25.5 1.6 L27.5 3.6 L29.5 1.6" stroke="#222" stroke-width="0.55" fill="none"/><path d="M9.9 2.6 L12.5 -0.1 L15.2 2.6 L12.5 5.2 Z" fill="#fff" stroke="#111" stroke-width="0.8"/></g><g fill="none" stroke="#111" stroke-width="1.3" stroke-linecap="square"><path transform="translate(177.6 90.8) scale(0.54)" d="M5 1V9.3M5 5H8.5M1 9.3H9"/><path transform="translate(183.6 90.8) scale(0.54)" d="M3 1.5Q2.5 5 3.2 6.5M7 1.5Q7.5 7 4.5 9.5"/><path transform="translate(189.6 90.8) scale(0.54)" d="M1 4L3 1.5M3 1.5L4 4L1 7L4 6.5M2.5 6.5V9.5M5 1.5H9V5H5ZM5 3.2H9M7 5V9.5M5 7L6.5 6M9 6L7.5 8L9.5 9.5"/></g><g fill="none" stroke="#111" stroke-width="1.3" stroke-linecap="square"><path transform="translate(182 249.8) scale(0.54)" d="M1 1.5H9M5 1.5V9.5M5.8 4.5L8 6.5"/><path transform="translate(188 249.8) scale(0.54)" d="M3 1.5Q2.5 5 3.2 6.5M7 1.5Q7.5 7 4.5 9.5"/><path transform="translate(194 249.8) scale(0.54)" d="M1 4L3 1.5M3 1.5L4 4L1 7L4 6.5M2.5 6.5V9.5M5 1.5H9V5H5ZM5 3.2H9M7 5V9.5M5 7L6.5 6M9 6L7.5 8L9.5 9.5"/></g><g fill="none" stroke="#222" stroke-width="1.39" stroke-linecap="square"><path transform="translate(52.5 169.9) scale(0.36)" d="M1.5 1.5H8.5M4.5 1.5L2.5 4.5H8M5 4.5V9.5M2 7H8M1 9.5H9"/><path transform="translate(59.8 169.9) scale(0.36)" d="M5 1V9.5L4 9M2.5 4L1 7.5M7.5 4L9 7.5"/><path transform="translate(63.45 169.9) scale(0.36)" d="M2 1V9.5M1 3H3.5M0.5 6L4 5M6 1L5 4H9.5M8 4Q7 8 5 9.5M6 5.5L9.5 9.5"/></g><g fill="none" stroke="#222" stroke-width="1.39" stroke-linecap="square"><path transform="translate(665 169.4) scale(0.36)" d="M1.5 1.5H8.5M4.5 1.5L2.5 4.5H8M5 4.5V9.5M2 7H8M1 9.5H9"/><path transform="translate(672.8 169.4) scale(0.36)" d="M1 2.5H9M5 1V9.5M2 4H8V7H2ZM2 5.5H8M5 7L1 9.5M5 7L9 9.5"/><path transform="translate(676.7 169.4) scale(0.36)" d="M5 1V2M1 2.5H9M2.5 4H7.5V6.5H2.5ZM5 6.5V9.5L4 9M3 7.5L1.5 9M7 7.5L8.5 9"/></g></g><g id="pwr"><path d="M157.25 33 L89.7 262" stroke="#ff0000" stroke-width="1.9"/><path d="M166.85 33 L99.3 262" stroke="#ff0000" stroke-width="1.9"/><path d="M176.45 33 L108.89 262" stroke="#ff0000" stroke-width="1.9"/></g><g id="crane"><path d="M4.7 -7.6 L52.3 -7.6 M14 6.2 L52.3 6.2 M4 -0.5 L50 -0.5 M4 3 L50 3" stroke="#8a8a8a" stroke-width="0.7" fill="none"/><path d="M5 -4 L50 -4" stroke="#c8c8c8" stroke-width="0.6" fill="none"/><path d="M40 -7.8 L51 -7.8 Q52.6 -7.8 52.6 -6.2 L52.6 5.4 Q52.6 7 51 7 L30 7 M46 -7.8 L46 -4.5 M34 5.8 L34 7.2 M41 5.8 L41 7.2" stroke="#000" stroke-width="0.9" fill="none"/><path d="M55.3 -5.8 L61 -5.8 L61 -7.3 L63.6 -2.3 L61 0.7 L61 -0.8 L55.3 -0.8 Z" fill="#ff8080"/><path d="M-16.5 4.6 L14 4.6" stroke="#ff1010" stroke-width="1.1"/><path d="M-16.5 3.2 L4 3.2 L4 6.2 L-16.5 6.2" fill="#ff7070"/><rect x="-16.5" y="-6.7" width="21.2" height="2.4" fill="#ff1010"/><rect x="-16.8" y="-4.4" width="7.5" height="7.4" fill="#ff3030"/><path d="M-20.5 -5.6 L-16 -5.6 L-16 5.6 L-20.5 5.6 Q-24.5 5.6 -24.5 0 Q-24.5 -5.6 -20.5 -5.6 Z" fill="#e80c0c"/><path d="M-14 -2.5 L-11.5 -2.5 M-14 1 L-12 1 M-21 -1 L-19.5 -1" stroke="#ffd0d0" stroke-width="0.8"/><circle cx="0" cy="0" r="4.45" fill="none" stroke="#000" stroke-width="0.95"/><path d="M-16.7 -19.5 L-16.7 20" stroke="#30dcf4" stroke-width="1.9"/><path d="M-16.7 -21.8 L-18.2 -17.8 L-15.2 -17.8 Z M-16.7 22.3 L-18.2 18.3 L-15.2 18.3 Z" fill="#30dcf4"/><path d="M24.6 -19.5 L24.6 20" stroke="#30dcf4" stroke-width="1.9"/><path d="M24.6 -21.8 L23.1 -17.8 L26.1 -17.8 Z M24.6 22.3 L23.1 18.3 L26.1 18.3 Z" fill="#30dcf4"/><path d="M-20.5 -14 Q-23 -8 -20 -5 M-20.5 14 Q-23 8 -20 5" stroke="#d0d0d0" stroke-width="0.9" fill="none"/></g><g id="truck"><rect x="14.1" y="0.4" width="60.6" height="10.6" fill="#e2f77a" stroke="#ff2a00" stroke-width="0.9"/><path d="M16.5 5.5 L74 5.5 M44 -1.5 L44 12.5" stroke="#f080c0" stroke-width="0.5"/><path d="M19.5 0.4 L19.5 11 M29.7 0.4 L29.7 11" stroke="#20b050" stroke-width="0.8"/><rect x="0" y="0" width="76.2" height="11.4" rx="1" fill="none" stroke="#1a9a48" stroke-width="1.05"/><path d="M10.2 0 L10.2 11.4" stroke="#1a9a48" stroke-width="1.0"/></g><g id="gcrane"><rect x="0" y="-6.5" width="48.5" height="13" fill="#7dea7d" stroke="#22cc22" stroke-width="0.8"/><path d="M0 -4 L48.5 -4 M0 4 L48.5 4 M6 -6.5 L6 6.5 M13 -6.5 L13 6.5 M20 -6.5 L20 6.5 M28 -6.5 L28 6.5 M36 -6.5 L36 6.5 M42 -6.5 L42 6.5" stroke="#22dd22" stroke-width="0.6"/><rect x="0.5" y="-2.3" width="37.5" height="4.6" fill="#c8d8f0" stroke="#8888cc" stroke-width="0.5"/><rect x="14" y="-5.2" width="26.5" height="8.6" fill="none" stroke="#ee2020" stroke-width="0.8"/><rect x="41" y="-3" width="5" height="6" fill="#ffffff"/><path d="M-11.5 0.6 L-6 -1.4 L-2 -1.6 L-0.5 0.6 L-2 2.4 L-6 2.4 Z" fill="#1030e0"/><path d="M-7 3.2 L-1 4 L-1 5.4 L-6.5 4.8 Z" fill="#f0e040"/><path d="M3 -18.5 L3 18.5" stroke="#30dcf4" stroke-width="1.4"/><path d="M3 -20 L1.6 -16.5 L4.4 -16.5 Z M3 20 L1.6 16.5 L4.4 16.5 Z" fill="#30dcf4"/><path d="M46.2 -18.5 L46.2 18.5" stroke="#30dcf4" stroke-width="1.4"/><path d="M46.2 -20 L44.8 -16.5 L47.6 -16.5 Z M46.2 20 L44.8 16.5 L47.6 16.5 Z" fill="#30dcf4"/></g><g id="forklift"><path d="M7 -5.6 Q-0.2 -5.6 -0.2 0 Q-0.2 5.6 7 5.6" fill="none" stroke="#222" stroke-width="0.9"/><path d="M24.8 -4.4 L36.3 -4.4 M24.8 4.5 L36.3 4.5" stroke="#888" stroke-width="1.0"/><rect x="32" y="-1.0" width="4.6" height="2.4" fill="#999"/><path d="M6.8 -5.5 L24.5 -5.5 M6.8 5.5 L24.5 5.5" stroke="#333" stroke-width="0.9"/><rect x="7.5" y="-4.3" width="4.8" height="8.6" fill="#ccc" stroke="#555" stroke-width="0.6"/><rect x="12.3" y="-4.6" width="5.2" height="9.2" fill="#555" stroke="#222" stroke-width="0.7"/><rect x="17.6" y="-5.6" width="7" height="11.2" rx="2" fill="#ddd" stroke="#222" stroke-width="0.9"/><rect x="19.5" y="-3.2" width="3" height="6.4" fill="#888"/><path d="M6.8 -5.4 L6.8 5.4" stroke="#111" stroke-width="1.1"/><circle cx="24.2" cy="-3.3" r="0.7" fill="#111"/><circle cx="24.2" cy="3.6" r="0.7" fill="#111"/><circle cx="3.2" cy="-1.4" r="0.45" fill="#333"/><circle cx="3.2" cy="1.6" r="0.45" fill="#333"/></g><g id="equip"><use href="#truck" transform="translate(-3.6 117.3) rotate(-1.7) translate(-38.1 -5.7)"/><use href="#gcrane" transform="translate(-21.5 146.4)"/><use href="#forklift" transform="translate(32.2 137.7)"/><path d="M70.2 106.9 L80.6 106.3 L84.6 165.7 L74.3 166.3 Z" fill="#e2f77a" stroke="#ff0000" stroke-width="1.15"/><path d="M75.4 105.1 L79.45 167.5 M71.75 136.6 L84.6 136" stroke="#f080c0" stroke-width="0.6"/><use href="#truck" transform="translate(-16.6 233.2) rotate(-1.7) translate(-38.1 -5.7)"/><use href="#gcrane" transform="translate(-32 203.8)"/><use href="#forklift" transform="translate(20.8 216.4)"/><path d="M57.4 185.3 L67.9 184.6 L72.2 245.1 L61.6 245.8 Z" fill="#e2f77a" stroke="#ff0000" stroke-width="1.15"/><path d="M62.65 183.45 L66.9 246.95 M59 215.55 L72.05 214.85" stroke="#f080c0" stroke-width="0.6"/></g></defs><rect width="1500" height="607" fill="#fff"/><g transform="translate(0 0)"><use href="#base"/><path d="M310.5 101.78 Q350.5 101.46 390.5 101.6 L390.5 158.95 Q350.5 158.79 310.5 159.14 Z" fill="url(#hp)"/><path d="M300.5 183.14 Q340.5 182.72 380.5 182.82 L380.5 239.72 Q340.5 239.61 300.5 240.07 Z" fill="url(#hp)"/><use href="#over"/><use href="#pwr"/><use href="#piers"/><use href="#truck" transform="translate(188.2 141.3) rotate(-1.61) translate(-38.1 -5.7)"/><use href="#truck" transform="translate(169.35 229.4) rotate(-1.79) translate(-38.1 -5.7)"/><use href="#mesh"/><use href="#crane" transform="translate(255.5 125.5) rotate(-1)"/><use href="#crane" transform="translate(272 209.5) rotate(-0.85) scale(-1 -1)"/><use href="#plines"/></g><g transform="translate(813 0)"><use href="#base"/><use href="#over"/><use href="#pwr"/><use href="#piers"/><path d="M190.5 103.74 Q220.5 102.99 250.5 102.5 L250.5 159.93 Q220.5 160.47 190.5 161.29 Z" fill="url(#hp)"/><path d="M180.5 185.57 Q210.5 184.67 240.5 184.07 L240.5 241.07 Q210.5 241.73 180.5 242.71 Z" fill="url(#hp)"/><use href="#mesh"/><use href="#crane" transform="translate(279.9 126.6) rotate(-0.78)"/><use href="#crane" transform="translate(299 209.2) rotate(-0.61) scale(-1 -1)"/><use href="#plines"/><use href="#equip"/><text x="22.5" y="15.3" font-size="14.4" font-family="Liberation Sans" fill="#000" stroke="#000" stroke-width="0.4">6</text><path d="M38.1 4.5 h7.8 v10.8 h-7.8 Z M38.1 9.8 h7.8" fill="none" stroke="#000" stroke-width="1.5"/><path d="M53.4 4.4 h7.6 v10.9 h-7.6 Z M53.4 7.9 h7.6 M53.4 11.5 h7.6" fill="none" stroke="#000" stroke-width="1.5"/></g><g transform="translate(0 340)"><use href="#base"/><path d="M260.5 102.34 Q285.5 101.97 310.5 101.78 L310.5 159.14 Q285.5 159.35 260.5 159.76 Z" fill="url(#hp)"/><path d="M240.5 184.07 Q270.5 183.46 300.5 183.14 L300.5 240.07 Q270.5 240.41 240.5 241.07 Z" fill="url(#hp)"/><use href="#over"/><use href="#pwr"/><use href="#piers"/><use href="#truck" transform="translate(209.6 130.4) rotate(-1.42) translate(-38.1 -5.7)"/><use href="#truck" transform="translate(144.8 232.2) rotate(-2.01) translate(-38.1 -5.7)"/><use href="#mesh"/><use href="#crane" transform="translate(340.9 122.2) rotate(-0.22)"/><use href="#crane" transform="translate(214.2 209.4) rotate(-1.38) scale(-1 -1)"/><use href="#plines"/><text x="22.5" y="15.3" font-size="14.4" font-family="Liberation Sans" fill="#000" stroke="#000" stroke-width="0.4">5</text><path d="M38.1 4.5 h7.8 v10.8 h-7.8 Z M38.1 9.8 h7.8" fill="none" stroke="#000" stroke-width="1.5"/><path d="M53.4 4.4 h7.6 v10.9 h-7.6 Z M53.4 7.9 h7.6 M53.4 11.5 h7.6" fill="none" stroke="#000" stroke-width="1.5"/></g><g transform="translate(813 340)"><use href="#base"/><path d="M156.21 104.67 Q173.35 104.16 190.5 103.74 L190.5 161.29 Q164.76 162 139.03 162.91 Z" fill="url(#hp)"/><path d="M123 187.56 Q151.75 186.43 180.5 185.57 L180.5 242.71 Q151.75 243.65 123 244.87 Z" fill="url(#hp)"/><use href="#over"/><use href="#pwr"/><use href="#piers"/><use href="#mesh"/><use href="#plines"/><use href="#equip"/><text x="22.5" y="15.3" font-size="14.4" font-family="Liberation Sans" fill="#000" stroke="#000" stroke-width="0.4">7</text><path d="M38.1 4.5 h7.8 v10.8 h-7.8 Z M38.1 9.8 h7.8" fill="none" stroke="#000" stroke-width="1.5"/><path d="M53.4 4.4 h7.6 v10.9 h-7.6 Z M53.4 7.9 h7.6 M53.4 11.5 h7.6" fill="none" stroke="#000" stroke-width="1.5"/></g></svg></body></html>
